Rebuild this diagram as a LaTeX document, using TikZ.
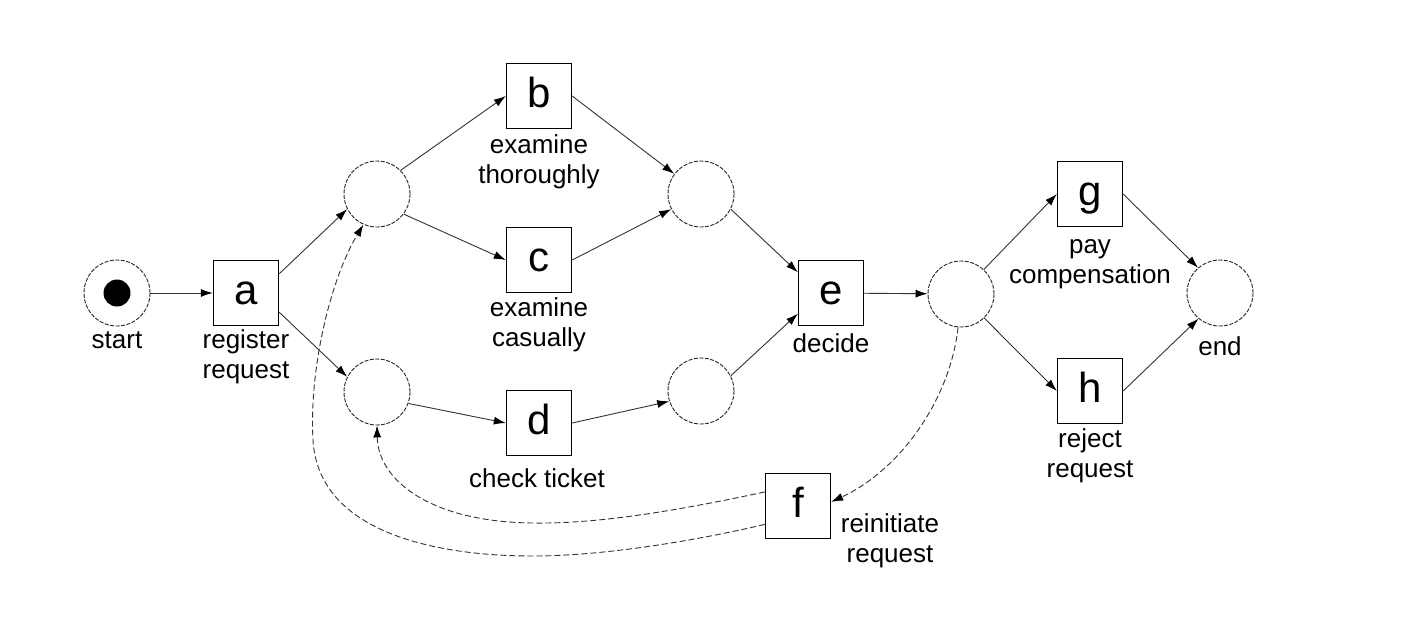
\documentclass[tikz,border=0pt]{standalone}
\usepackage{fontspec}
\setmainfont{Liberation Sans}
\usetikzlibrary{arrows.meta}
\begin{document}
\begin{tikzpicture}[x=1pt,y=-1pt,
  place/.style={circle, draw=black!85, dash pattern=on 4pt off 1.5pt, line width=0.9pt, minimum size=66pt, inner sep=0pt},
  token/.style={circle, fill=black, minimum size=27pt, inner sep=0pt},
  trans/.style={rectangle, draw=black, line width=1.3pt, minimum size=65pt, inner sep=0pt, font=\fontsize{42}{42}\selectfont, text height=30pt, text depth=8pt},
  lbl/.style={align=center, inner sep=0pt, font=\fontsize{26}{30}\selectfont},
  arc/.style={draw=black!80, line width=0.9pt, -{Latex[length=12pt,width=8pt,black]}},
  loopback/.style={arc, dash pattern=on 6pt off 3pt},
]
\useasboundingbox (0,0) rectangle (1427,641);
\fill[white] (0,0) rectangle (1427,641);

% places
\node[place] (start) at (117,293) {};
\node[token] (tok) at (117,293) {};
\node[place] (p1) at (377,194) {};
\node[place] (p2) at (377,392) {};
\node[place] (p3) at (701,194) {};
\node[place] (p4) at (701,391) {};
\node[place] (p5) at (961,294) {};
\node[place] (end) at (1220,293) {};

% transitions
\node[trans] (a) at (246,293) {a};
\node[trans] (b) at (539,96) {b};
\node[trans] (c) at (539,260) {c};
\node[trans] (d) at (539,423) {d};
\node[trans] (e) at (831,293) {e};
\node[trans] (f) at (798,506) {f};
\node[trans] (g) at (1090,194) {g};
\node[trans] (h) at (1090,391) {h};

% labels
\node[lbl] (lstart) at (117,342) {\strut start};
\node[lbl] (la) at (246,357) {\strut register\\\strut request};
\node[lbl] (lb) at (539,162) {\strut examine\\\strut thoroughly};
\node[lbl] (lc) at (539,325) {\strut examine\\\strut casually};
\node[lbl] (ld) at (537,481) {\strut check ticket};
\node[lbl] (le) at (831,346) {\strut decide};
\node[lbl] (lf) at (890,541) {\strut reinitiate\\\strut request};
\node[lbl] (lg) at (1090,262) {\strut pay\\\strut compensation};
\node[lbl] (lh) at (1090,456) {\strut reject\\\strut request};
\node[lbl] (lend) at (1220,349) {\strut end};

% arcs
\draw[arc] (start) -- (a);
\draw[arc] (a.30) -- (p1.207);
\draw[arc] (a.-30) -- (p2.153);
\draw[arc] (p1.45) -- (b.west);
\draw[arc] (p1.-37) -- (c.west);
\draw[arc] (p2.-20) -- (d.west);
\draw[arc] (b.east) -- (p3.143);
\draw[arc] (c.east) -- (p3.207);
\draw[arc] (d.east) -- (p4.198);
\draw[arc] (p3.-27) -- (e.148);
\draw[arc] (p4.27) -- (e.212);
\draw[arc] (e) -- (p5);
\draw[arc] (p5.47) -- (g.west);
\draw[arc] (p5.-46) -- (h.west);
\draw[arc] (g.east) -- (end.131);
\draw[arc] (h.east) -- (end.230);

% loop-back arcs
\draw[loopback] (p5.265) .. controls (950,400) and (900,470) .. (f.7);
\draw[loopback] (f.157) .. controls (680,510) and (600,524) .. (533,523)
  .. controls (430,522) and (378,480) .. (p2.south);
\draw[loopback] (f.209) .. controls (690,542) and (600,556) .. (533,556)
  .. controls (430,556) and (318,530) .. (313,440)
  .. controls (309,370) and (330,280) .. (p1.246);
\end{tikzpicture}
\end{document}
